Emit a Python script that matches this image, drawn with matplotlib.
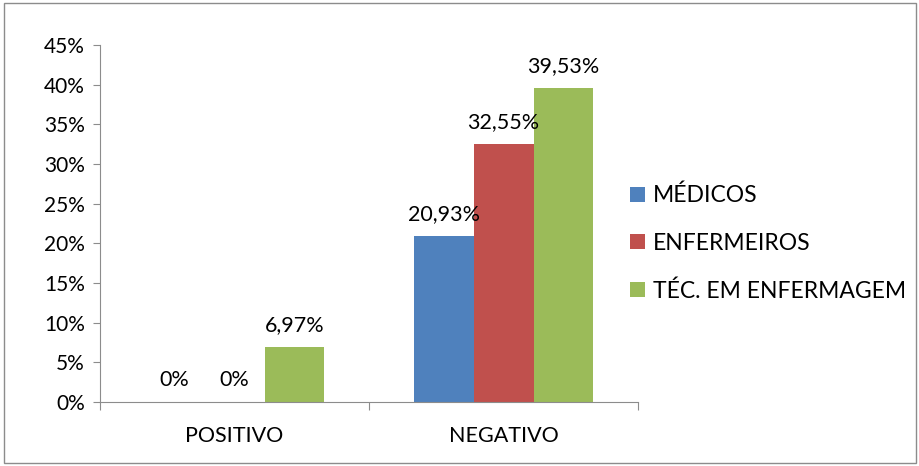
import matplotlib
matplotlib.use("Agg")
import matplotlib.pyplot as plt
from matplotlib.patches import Rectangle
import numpy as np

# dados do gráfico
categorias = ['POSITIVO', 'NEGATIVO']
series = ['MÉDICOS', 'ENFERMEIROS', 'TÉC. EM ENFERMAGEM']
medicos = [0, 20.93]
enfermeiros = [0, 32.55]
tecnicos = [6.97, 39.53]
rotulos_medicos = ['0%', '20,93%']
rotulos_enfermeiros = ['0%', '32,55%']
rotulos_tecnicos = ['6,97%', '39,53%']
cores = ['#4F81BD', '#C0504D', '#9BBB59']

plt.rcParams['font.family'] = ['Lato', 'DejaVu Sans']

fig = plt.figure(figsize=(9.2, 4.66), dpi=100)
ax = fig.add_axes([0.1087, 0.1373, 0.5848, 0.7661])

# moldura externa
fig.patches.append(Rectangle((0.004, 0.006), 0.992, 0.988, transform=fig.transFigure,
                             fill=False, edgecolor='#8c8c8c', linewidth=1))

x = np.arange(len(categorias))
largura = 0.223
valores = [medicos, enfermeiros, tecnicos]
rotulos = [rotulos_medicos, rotulos_enfermeiros, rotulos_tecnicos]

for i, (vals, rots) in enumerate(zip(valores, rotulos)):
    pos = x + (i - 1) * largura
    ax.bar(pos, vals, width=largura, color=cores[i], label=series[i])
    for p, v, r in zip(pos, vals, rots):
        ax.annotate(r, (p, v), xytext=(0, 11.5), textcoords='offset points',
                    ha='center', va='baseline', fontsize=15.5)

ax.set_xlim(-0.5, 1.5)
ax.set_ylim(0, 45)
ax.set_yticks(np.arange(0, 46, 5))
ax.set_yticklabels([f'{t}%' for t in range(0, 46, 5)], fontsize=15)

# ticks do eixo x nas divisões entre categorias
ax.set_xticks([-0.5, 0.5, 1.5])
ax.set_xticklabels([])
ax.set_xticks(x, minor=True)
ax.set_xticklabels(categorias, minor=True, fontsize=15.5)
ax.tick_params(axis='x', which='minor', length=0, pad=17)
ax.tick_params(axis='x', which='major', length=6, color='#8c8c8c')
ax.tick_params(axis='y', length=5, color='#8c8c8c', pad=6)

for s in ['top', 'right']:
    ax.spines[s].set_visible(False)
for s in ['left', 'bottom']:
    ax.spines[s].set_color('#8c8c8c')

ax.legend(loc='center left', bbox_to_anchor=(0.985, 0.445), frameon=False, fontsize=16.5,
          borderaxespad=0, borderpad=0,
          handlelength=0.65, handleheight=0.65, handletextpad=0.35, labelspacing=1.15)

fig.savefig('out.png', dpi=100)
